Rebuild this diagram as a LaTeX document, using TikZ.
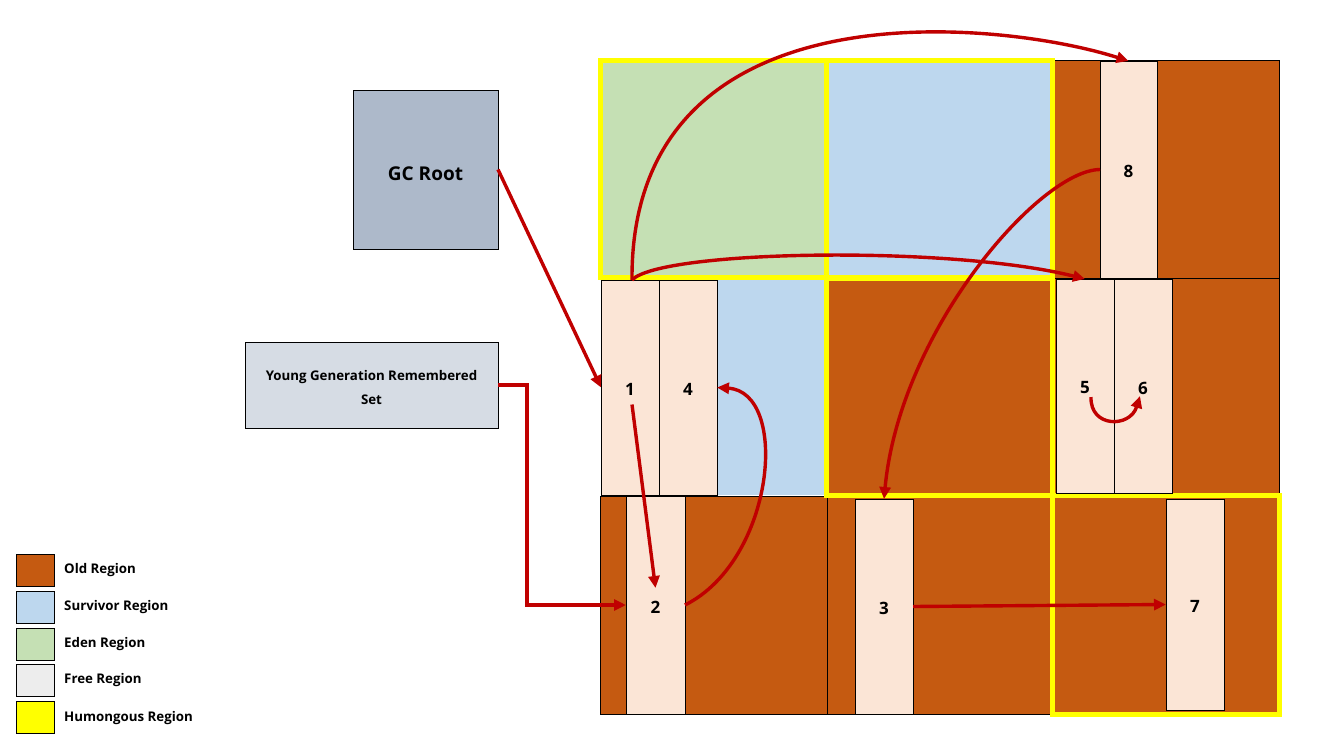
\documentclass[tikz,border=0pt]{standalone}
\usepackage{fontspec}
\setmainfont{Open Sans}
\usetikzlibrary{arrows.meta,calc}
\definecolor{oldc}{HTML}{C55A11}
\definecolor{survc}{HTML}{BDD7EE}
\definecolor{edenc}{HTML}{C5E0B4}
\definecolor{freec}{HTML}{EDEDED}
\definecolor{humc}{HTML}{FFFF00}
\definecolor{cellc}{HTML}{FBE5D6}
\definecolor{gcc}{HTML}{ADB9CA}
\definecolor{ygc}{HTML}{D6DCE4}
\definecolor{redc}{HTML}{C00000}
\newcommand\dropby[2]{\raisebox{-#1}[\height][\depth]{#2}}
\begin{document}
\begin{tikzpicture}[x=1pt,y=-1pt,
  box/.style={rectangle,inner sep=0pt,outer sep=0pt,draw=black,line width=0.75pt},
  region/.style={box,fill=oldc},
  bare/.style={rectangle,inner sep=0pt,outer sep=0pt,draw=none},
  cellbox/.style={box,fill=cellc,font=\fontsize{17}{20}\selectfont\bfseries},
  hum/.style={draw=humc,line width=5pt},
  arr/.style={draw=redc,line width=3.4pt,-{Triangle[length=12pt,width=11pt]}},
  legbox/.style={box,minimum width=38pt,minimum height=32pt},
  legtext/.style={anchor=west,inner sep=0pt,font=\fontsize{13.3}{16}\selectfont\bfseries}
]
\path[use as bounding box,fill=white] (0,0) rectangle (1320,742);

% top row
\node[bare,fill=edenc,minimum width=226pt,minimum height=217pt] (eden) at (713,168.5) {};
\node[bare,fill=survc,minimum width=226pt,minimum height=217pt] (survT) at (939,168.5) {};
\node[region,minimum width=227pt,minimum height=218pt] (oldTR) at (1165.5,169) {};
% middle row
\node[bare,fill=survc,minimum width=109pt,minimum height=215pt] (survM) at (771.5,387.5) {};
\node[bare,fill=oldc,minimum width=226pt,minimum height=217pt] (oldMC) at (939,386.5) {};
\node[region,minimum width=227pt,minimum height=217pt] (oldMR) at (1165.5,386.5) {};
% bottom row
\node[region,minimum width=227pt,minimum height=218pt] (oldBL) at (713.5,605) {};
\node[region,minimum width=225pt,minimum height=218pt] (oldBM) at (939.5,605) {};
\node[bare,fill=oldc,minimum width=227pt,minimum height=219pt] (oldBR) at (1165.5,604.5) {};

% humongous borders
\draw[hum] (eden.north west) rectangle (survT.south east);
\draw[hum] (eden.north east) -- (eden.south east);
\draw[hum] (oldMC.north west) rectangle (oldMC.south east);
\draw[hum] (oldBR.north west) rectangle (oldBR.south east);

% cells
\node[cellbox,minimum width=57pt,minimum height=217pt] (c8) at (1128.5,169.5) {\dropby{2pt}{8}};
\node[cellbox,minimum width=58pt,minimum height=215pt] (c1) at (630,387.5) {\dropby{2pt}{1}};
\node[cellbox,minimum width=58pt,minimum height=215pt] (c4) at (688,387.5) {\dropby{2pt}{4}};
\node[cellbox,minimum width=58pt,minimum height=214pt] (c5) at (1085,386) {\dropby{2pt}{5}};
\node[cellbox,minimum width=58pt,minimum height=214pt] (c6) at (1143,386) {\dropby{2pt}{6}};
\node[cellbox,minimum width=59pt,minimum height=218pt] (c2) at (655.5,605) {\dropby{2pt}{2}};
\node[cellbox,minimum width=58pt,minimum height=215pt] (c3) at (884,606.5) {\dropby{2pt}{3}};
\node[cellbox,minimum width=58pt,minimum height=211pt] (c7) at (1195,604.5) {\dropby{2pt}{7}};

% left boxes
\node[box,fill=gcc,minimum width=145pt,minimum height=159pt,font=\fontsize{19}{22}\selectfont\bfseries] (gc) at (425.5,169.5) {\dropby{4pt}{GC Root}};
\node[box,fill=ygc,minimum width=253pt,minimum height=86pt,font=\fontsize{13.3}{24}\selectfont\bfseries] (yg) at (371.5,385) {\dropby{3pt}{\begin{tabular}{@{}c@{}}Young Generation Remembered\\Set\end{tabular}}};

% legend
\node[legbox,fill=oldc] (l1) at (35,570) {};
\node[legbox,fill=survc] (l2) at (35,607) {};
\node[legbox,fill=edenc] (l3) at (35,644) {};
\node[legbox,fill=freec] (l4) at (35,680) {};
\node[legbox,fill=humc] (l5) at (35,717) {};
\node[legtext] (t1) at (64,570) {Old Region};
\node[legtext] (t2) at (64,607) {Survivor Region};
\node[legtext] (t3) at (64,644) {Eden Region};
\node[legtext] (t4) at (64,680) {Free Region};
\node[legtext] (t5) at (64,718) {Humongous Region};

% arrows
\draw[arr] (gc.east) -- (c1.west);
\draw[arr] (yg.east) -- ++(29,0) |- (c2.west);
\draw[arr] ($(c1.center)+(2,17)$) -- ($(c2.center)+(0,-17)$);
\draw[arr] (c2.east) .. controls (775,560) and (790,392) .. (c4.east);
\draw[arr] ($(c1.north)+(2,0)$) .. controls (630,-20) and (1000,20) .. (c8.north);
\draw[arr] ($(c1.north)+(2,0)$) .. controls (660,250) and (950,245) .. (c5.north);
\draw[arr] (c8.west) .. controls (1040,170) and (900,330) .. (c3.north);
\draw[arr] ($(c5.center)+(6,11)$) .. controls (1090,428) and (1130,428) .. ($(c6.center)+(-3,10)$);
\draw[arr] (c3.east) -- (c7.west);
\end{tikzpicture}
\end{document}
